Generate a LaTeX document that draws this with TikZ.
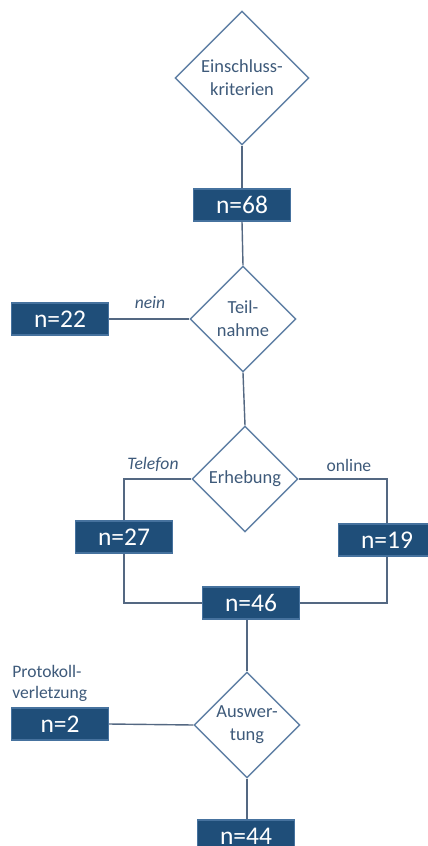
\documentclass[tikz,border=0pt]{standalone}
\usepackage{fontspec}
\setmainfont{Carlito}
\usepackage{tikz}
\usetikzlibrary{calc}
\usetikzlibrary{shapes.geometric}
\definecolor{boxblue}{RGB}{31,78,121}
\definecolor{boxedge}{RGB}{70,114,158}
\definecolor{decedge}{RGB}{96,128,165}
\definecolor{dectext}{RGB}{62,90,122}
\definecolor{linecol}{RGB}{84,104,130}
\tikzstyle{nbox} = [draw=boxedge, line width=0.8pt, fill=boxblue, text=white, minimum width=1.94cm, minimum height=0.64cm, inner sep=0, font=\fontsize{14.5}{16}\selectfont]
\tikzstyle{dec} = [diamond, draw=decedge, line width=0.8pt, fill=white, aspect=1, inner sep=-1pt, align=center, text=dectext, minimum width=2.12cm, minimum height=2.12cm, font=\fontsize{10.5}{13}\selectfont]
\tikzstyle{con} = [-, draw=linecol, line width=0.8pt]
\tikzstyle{lbl} = [draw=none, inner sep=0, text=dectext, font=\fontsize{10}{12}\selectfont]

\begin{document}
\begin{tikzpicture}[x=0.02cm, y=-0.02cm]
\useasboundingbox (0,0) rectangle (427,846);
\node [dec, minimum width=2.68cm, minimum height=2.68cm] (crit) at (242, 78) {Einschluss-\\kriterien};
\node [nbox] (n68) at (242, 205) {n=68};
\node [dec] (part) at (243, 319) {Teil-\\nahme};
\node [nbox] (n22) at (60, 319) {n=22};
\node [dec] (surv) at (245, 479) {Erhebung};
\node [nbox] (n27) at (124, 537) {n=27};
\node [nbox] (n19) at (387, 540) {n=19};
\node [nbox] (n46) at (251, 603) {n=46};
\node [dec] (eval) at (247, 725) {Auswer-\\tung};
\node [nbox] (n2) at (60, 724) {n=2};
\node [nbox] (n44) at (246, 836) {n=44};
% labels
\node [lbl, font=\fontsize{10}{12}\selectfont\itshape] (no) at (150, 303) {nein};
\node [lbl, font=\fontsize{10}{12}\selectfont\itshape] (tel) at (153, 464) {Telefon};
\node [lbl] (onl) at (349, 465) {online};
\node [lbl, align=left, anchor=west] (viol) at (12, 683) {Protokoll-\\verletzung};
% connectors
\draw [con] (crit.south) to (n68.north);
\draw [con] (n68.south) to (part.north);
\draw [con] (part.west) to (n22.east);
\draw [con] (part.south) to (surv.north);
\draw [con] (n27.north) |- (surv.west);
\draw [con] (n19.north) |- (surv.east);
\draw [con] (n27.south) |- (n46.west);
\draw [con] (n19.south) |- (n46.east);
\draw [con] (eval.north) to (eval.north |- n46.south);
\draw [con] (eval.west) to (n2.east);
\draw [con] (eval.south) to (eval.south |- n44.north);
\end{tikzpicture}
\end{document}
